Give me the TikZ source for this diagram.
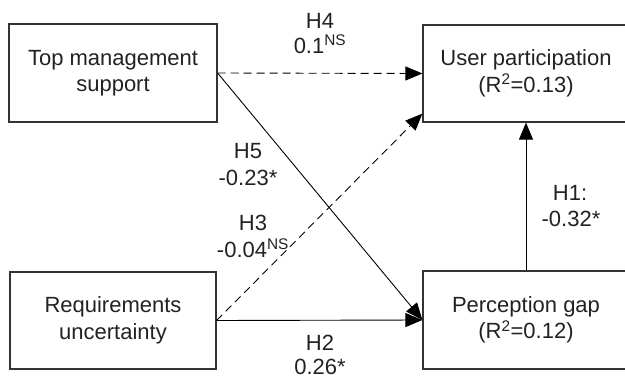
\documentclass[tikz,border=0pt]{standalone}
\usepackage{fontspec}
\setmainfont{Liberation Sans}
\usetikzlibrary{arrows.meta}
\definecolor{boxline}{HTML}{333333}
\definecolor{txt}{HTML}{222222}
\begin{document}
\begin{tikzpicture}[x=1pt,y=-1pt,
  box/.style={draw=boxline,line width=1.2pt,rectangle,inner sep=0pt,align=center,
    text=txt,font=\fontsize{22}{26.5}\selectfont},
  lbl/.style={anchor=base,inner sep=0pt,text=txt,font=\fontsize{22}{26}\selectfont},
  conn/.style={line width=0.9pt,-{Triangle[length=17pt,width=14pt]}},
  dconn/.style={conn,dash pattern=on 8pt off 5pt}]
\useasboundingbox (0,0) rectangle (625,380);
\clip (0,0) rectangle (625,380);
\node[box,minimum width=208,minimum height=98] (tms) at (113,73) {Top management\\support};
\node[box,minimum width=206,minimum height=97] (ru) at (113,320.5) {Requirements\\uncertainty};
\node[box,minimum width=206,minimum height=97] (up) at (526,73.5) {User participation\\(R\textsuperscript{2}=0.13)};
\node[box,minimum width=206,minimum height=98] (pg) at (526,320) {Perception gap\\(R\textsuperscript{2}=0.12)};
\coordinate (h3end) at ([yshift=9pt]up.south west);
\draw[dconn] (tms.east) -- (up.west);
\draw[conn] (tms.east) -- (pg.west);
\draw[dconn] (ru.east) -- (h3end);
\draw[conn] (ru.east) -- (pg.west);
\draw[conn] (pg.north) -- (up.south);
\node[lbl] (h4a) at (320,28) {H4};
\node[lbl] (h4b) at (320,53) {0.1\textsuperscript{NS}};
\node[lbl] (h5a) at (248,158) {H5};
\node[lbl] (h5b) at (248,185) {-0.23*};
\node[lbl] (h3a) at (253,230) {H3};
\node[lbl] (h3b) at (253,257) {-0.04\textsuperscript{NS}};
\node[lbl] (h1a) at (570,200) {H1:};
\node[lbl] (h1b) at (571,226) {-0.32*};
\node[lbl] (h2a) at (320,350) {H2};
\node[lbl] (h2b) at (320,374) {0.26*};
\end{tikzpicture}
\end{document}
